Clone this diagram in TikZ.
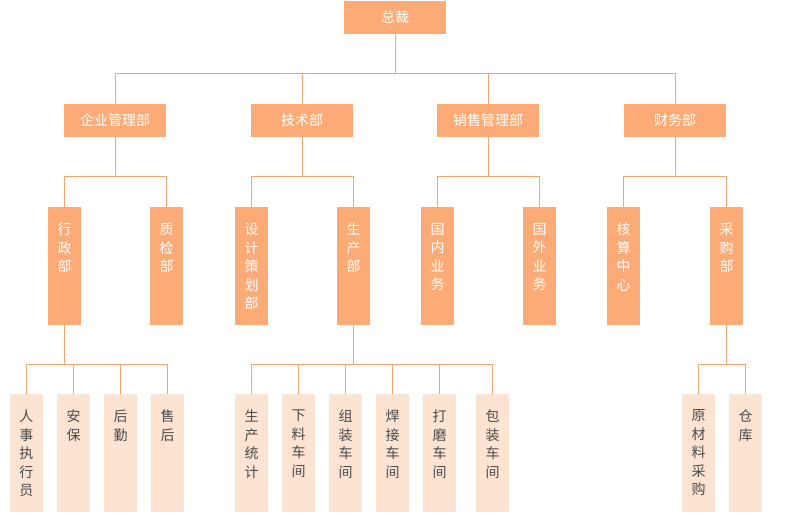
\documentclass[tikz,border=0pt]{standalone}
\usepackage{fontspec}
\newfontfamily\cjk{Noto Sans CJK SC}
\definecolor{deep}{HTML}{FCAB76}
\definecolor{pale}{HTML}{FDE3D1}
\definecolor{wire}{HTML}{F7A570}
\definecolor{ink}{HTML}{4A4A4A}
\tikzset{
  hbox/.style={fill=deep,text=white,minimum width=102pt,minimum height=33pt,inner sep=0pt,font=\cjk\fontsize{14}{18}\selectfont},
  vtext/.style={anchor=north,yshift=-16pt,align=center,inner sep=0pt,font=\cjk\fontsize{14}{18.5}\selectfont},
  vbox/.style={fill=deep,minimum width=33pt,minimum height=118pt,inner sep=0pt,label={[vtext,text=white]north:{#1}}},
  ubox/.style={fill=pale,minimum width=33pt,minimum height=118pt,inner sep=0pt,label={[vtext,text=ink]north:{#1}}},
  link/.style={draw=wire,line width=1pt}
}
\begin{document}
\begin{tikzpicture}[x=1pt,y=-1pt]
  \useasboundingbox(0,0)rectangle(790,529);

  \node[hbox](ceo)at(395,17.5){总裁};

  \foreach \n/\x/\t in{qy/115/企业管理部,js/302/技术部,xs/488/销售管理部,cw/675/财务部}{
    \node[hbox](\n)at(\x,120.5){\t};
    \draw[link](ceo.south)--++(0,39)-|(\n.north);
  }

  \foreach \n/\p/\x/\t in{xz/qy/64.5/{行\\政\\部},zj/qy/166.5/{质\\检\\部},
    sj/js/251.5/{设\\计\\策\\划\\部},sc/js/353.5/{生\\产\\部},
    gn/xs/437.5/{国\\内\\业\\务},gw/xs/539.5/{国\\外\\业\\务},
    hs/cw/623.5/{核\\算\\中\\心},cg/cw/726.5/{采\\购\\部}}{
    \node[vbox=\t](\n)at(\x,266){};
    \draw[link](\p.south)--++(0,39)-|(\n.north);
  }

  % bottom row
  \foreach \n/\p/\x/\t in{rs/xz/26.5/{人\\事\\执\\行\\员},ab/xz/73.5/{安\\保},hq/xz/120.5/{后\\勤},sh/xz/167.5/{售\\后},
    tj/sc/251.5/{生\\产\\统\\计},xl/sc/298.5/{下\\料\\车\\间},zz/sc/345.5/{组\\装\\车\\间},
    hj/sc/392.5/{焊\\接\\车\\间},dm/sc/439.5/{打\\磨\\车\\间},bz/sc/492.5/{包\\装\\车\\间},
    yc/cg/698.5/{原\\材\\料\\采\\购},ck/cg/745.5/{仓\\库}}{
    \node[ubox=\t](\n)at(\x,453){};
    \draw[link](\p.south)--++(0,39)-|(\n.north);
  }
\end{tikzpicture}
\end{document}
